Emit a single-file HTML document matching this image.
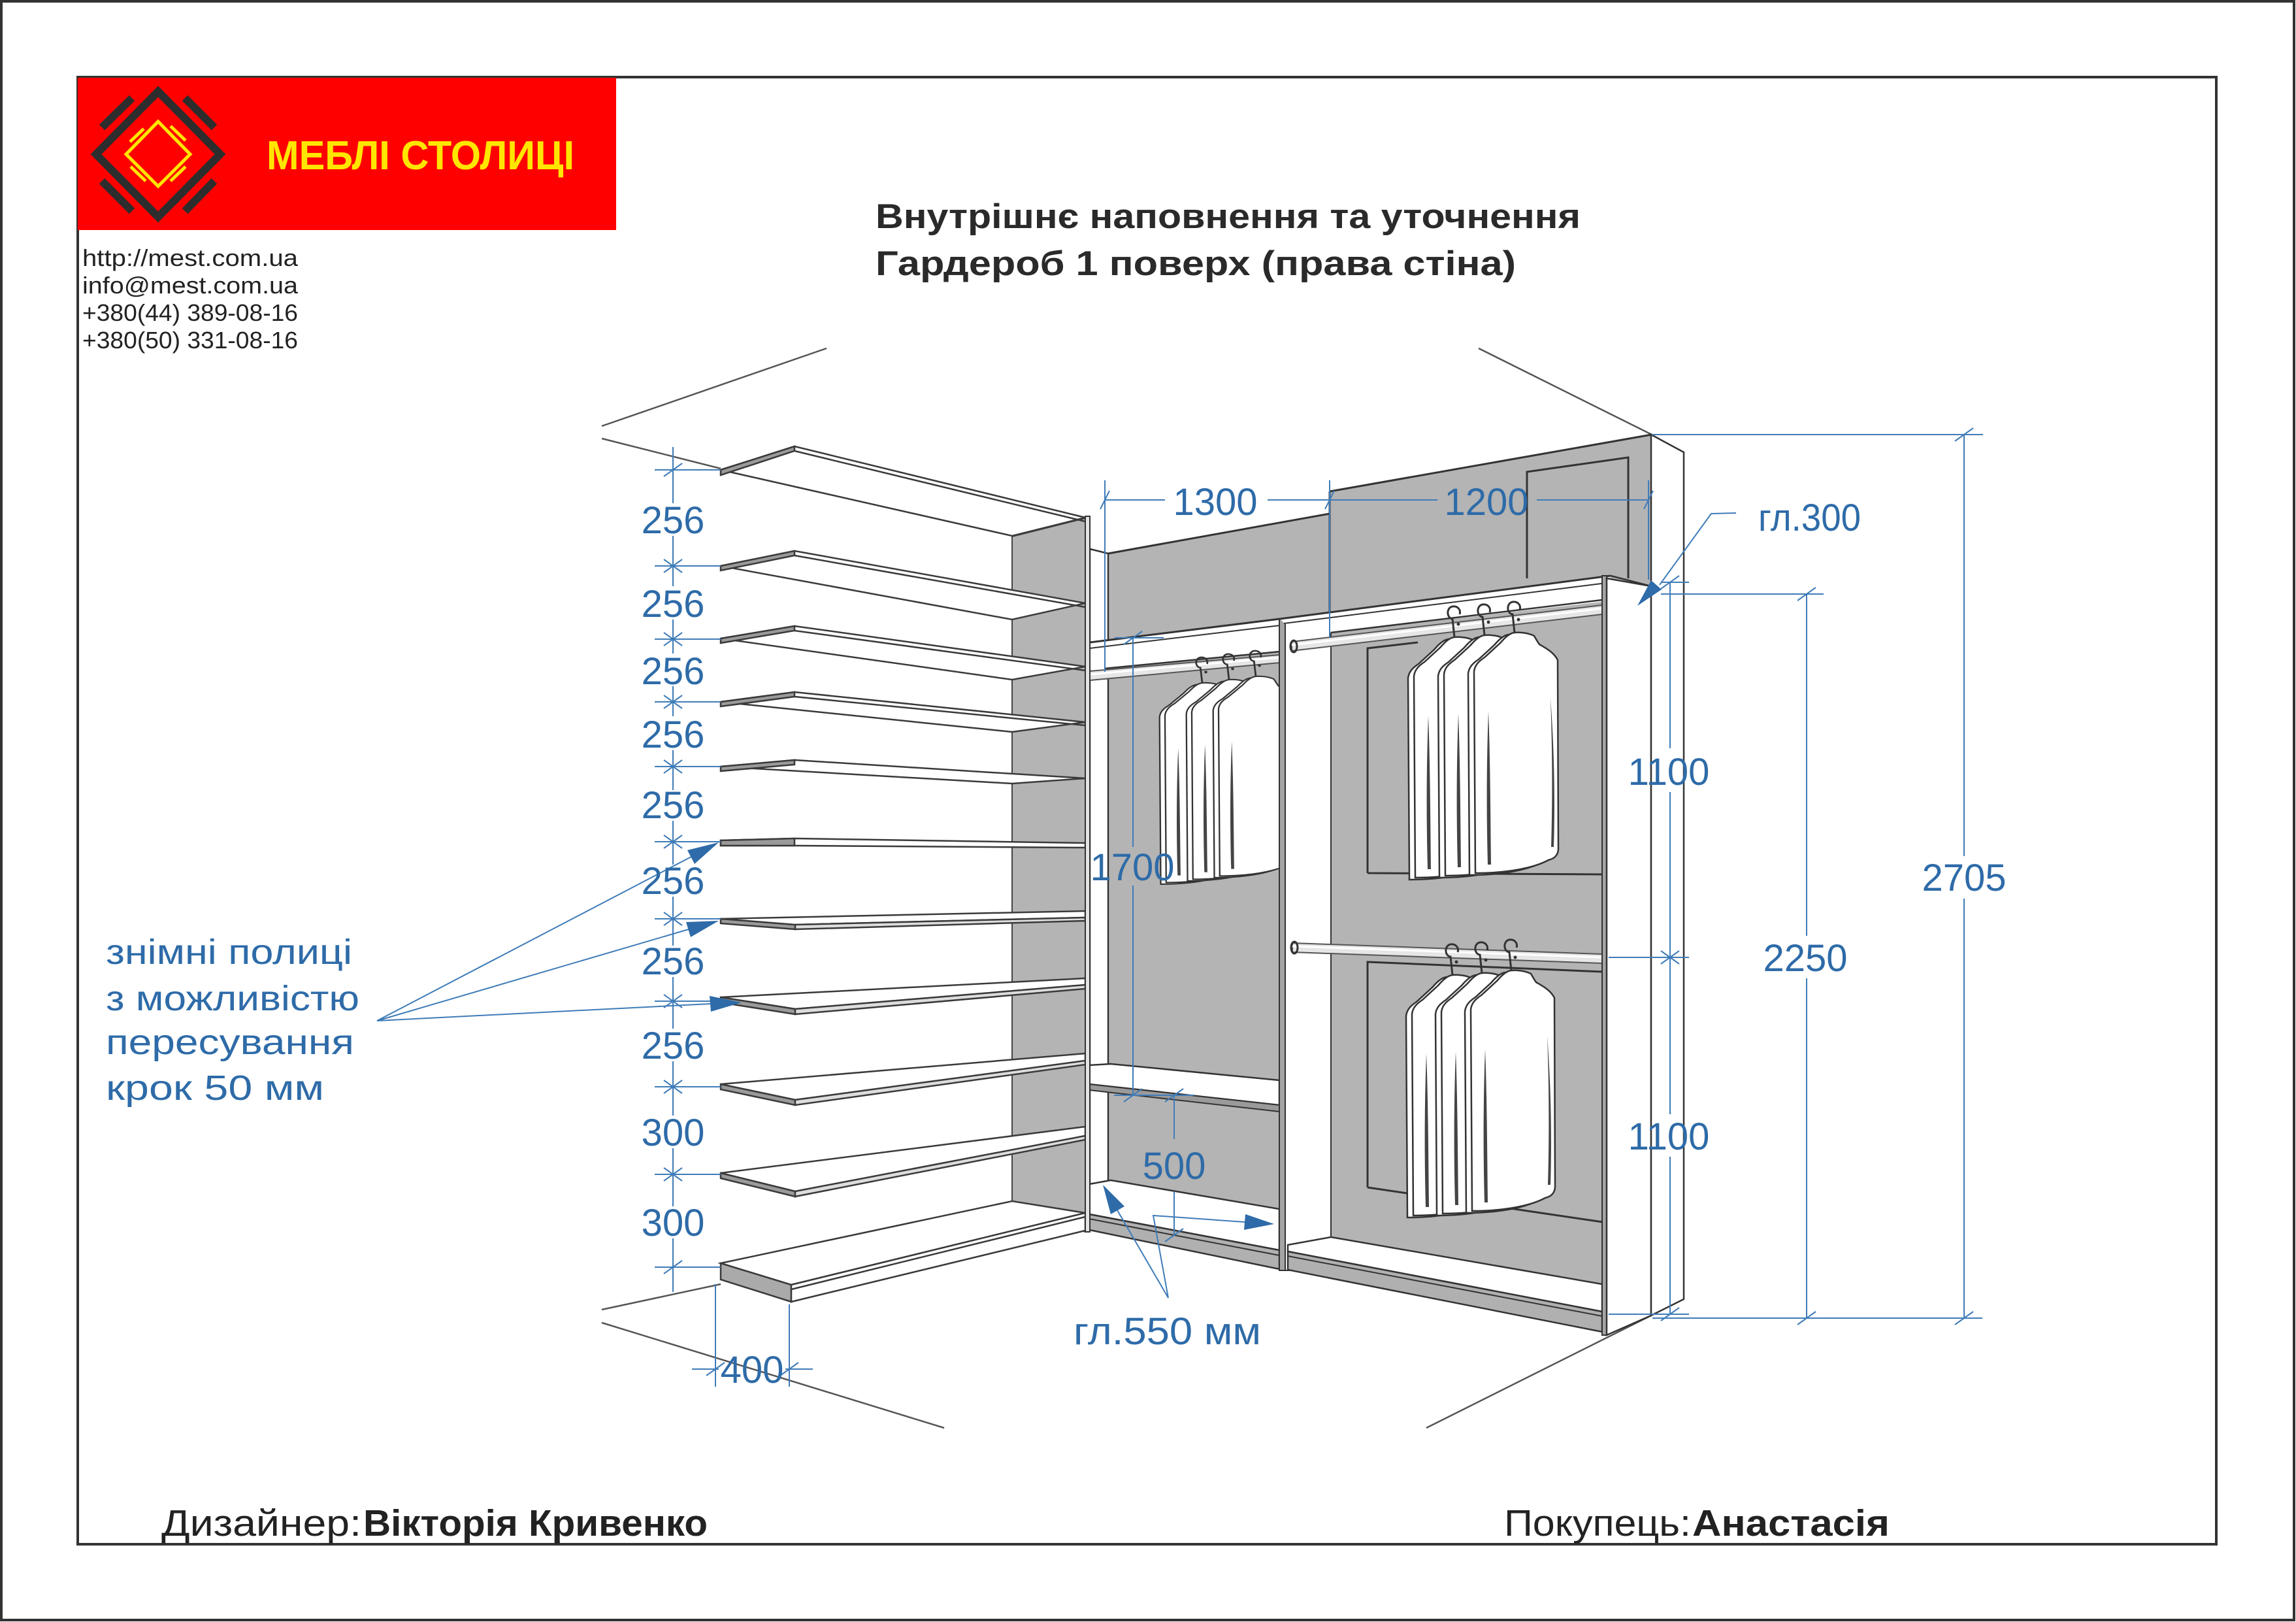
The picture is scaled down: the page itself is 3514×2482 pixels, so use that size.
<!DOCTYPE html>
<html><head><meta charset="utf-8"><style>
html,body{margin:0;padding:0;background:#fff;}
svg{display:block;}
text{font-family:"Liberation Sans","DejaVu Sans",sans-serif;}
</style></head><body>
<svg xmlns="http://www.w3.org/2000/svg" width="3514" height="2482" viewBox="0 0 3514 2482">
<defs>
 <g id="gar">
  <path d="M-9,3 C1,2 13,4 21,8 C24,13 26,17 29,21 C39,27 51,33 57,45 L58,335 C57,345 51,349 43,351 C21,363 -19,371 -69,371 L-71,63 C-70,53 -64,47 -55,41 L-31,19 C-24,11 -17,4 -9,3 Z" fill="#fff" stroke="#333" stroke-width="2.5"/>
  <path d="M0,0 C10,-1 22,1 30,5 C33,10 35,14 38,18 C48,24 60,30 66,42 L67,332 C66,342 60,346 52,348 C30,360 -10,368 -60,368 L-62,60 C-61,50 -55,44 -46,38 L-22,16 C-15,8 -8,1 0,0 Z" fill="#fff" stroke="#333" stroke-width="2.5"/>
  <path d="M55,100 C58,180 58,260 56,328 L60,328 C62,260 61,180 55,100Z" fill="#444"/>
  <path d="M-40,120 C-43,200 -43,280 -41,355 L-36,355 C-37,280 -37,200 -40,120Z" fill="#444"/>
 </g>
 <g id="hook"><path d="M0,0 L-3,-28 C-12,-29 -13,-45 -3,-47 C6,-48 10,-41 8,-35" fill="none" stroke="#333" stroke-width="3"/><circle cx="6" cy="-20" r="2.5" fill="#333"/></g>
</defs>

<rect x="0" y="0" width="3514" height="2482" fill="#fff"/>
<rect x="2" y="2" width="3509" height="2477" fill="none" stroke="#333" stroke-width="4"/>
<rect x="119" y="118" width="3273" height="2245" fill="none" stroke="#333" stroke-width="4"/>

<!-- Logo -->
<rect x="119" y="119" width="824" height="233" fill="#ff0000"/>
<polygon points="242,140 337,236 242,332 147,236" fill="none" stroke="#2d2d2d" stroke-width="12"/>
<g stroke="#2d2d2d" stroke-width="12">
 <line x1="156" y1="195" x2="202" y2="150"/>
 <line x1="283" y1="150" x2="328" y2="195"/>
 <line x1="156" y1="277" x2="202" y2="323"/>
 <line x1="283" y1="323" x2="328" y2="277"/>
</g>
<polygon points="242,186 291,236 242,285 193,236" fill="none" stroke="#ffe600" stroke-width="5"/>
<g stroke="#ffe600" stroke-width="5">
 <line x1="261" y1="193" x2="284" y2="215"/>
 <line x1="199" y1="217" x2="220" y2="197"/>
 <line x1="200" y1="255" x2="223" y2="277"/>
 <line x1="261" y1="277" x2="284" y2="255"/>
</g>
<text x="408" y="259" font-size="62" font-weight="bold" fill="#ffe600" textLength="471" lengthAdjust="spacingAndGlyphs">МЕБЛІ СТОЛИЦІ</text>

<g fill="#222" font-size="36">
 <text x="126" y="407" textLength="330" lengthAdjust="spacingAndGlyphs">http://mest.com.ua</text>
 <text x="126" y="449" textLength="330" lengthAdjust="spacingAndGlyphs">info@mest.com.ua</text>
 <text x="126" y="491" textLength="330" lengthAdjust="spacingAndGlyphs">+380(44)  389-08-16</text>
 <text x="126" y="533" textLength="330" lengthAdjust="spacingAndGlyphs">+380(50)  331-08-16</text>
</g>

<!-- Title -->
<g fill="#2a2a2a" font-size="53" font-weight="bold">
 <text x="1340" y="349" textLength="1079" lengthAdjust="spacingAndGlyphs">Внутрішнє наповнення та уточнення</text>
 <text x="1340" y="421" textLength="980" lengthAdjust="spacingAndGlyphs">Гардероб 1 поверх (права стіна)</text>
</g>

<!-- Room lines -->
<g stroke="#555" stroke-width="2.5" fill="none">
 <path d="M921,652 L1265,533 M921,671 L1103,717 M2263,533 L2528,665 M921,2004 L1103,1965 M921,2024 L1445,2185 M2183,2185 L2527,2013"/>
</g>

<!-- Back gray of middle/right units -->
<polygon points="1696,847 2035,786 2035,752 2528,665 2528,2000 1696,1820" fill="#b4b4b4"/>
<g stroke="#333" stroke-width="3" fill="none">
 <path d="M1696,847 L2035,786 M2035,752 L2528,665 M2035,752 L2035,967"/>
 <path d="M2337,885 L2337,722 L2492,700 L2492,885"/>
 <!-- right bay rects -->
 <path d="M2093,1336 L2093,992 L2170,983 M2093,1336 L2456,1338"/>
 <path d="M2093,1817 L2093,1472 L2453,1487 M2093,1817 L2453,1870"/>
</g>

<!-- Middle unit left white strip -->
<polygon points="1668,840 1696,847 1696,1860 1668,1860" fill="#fff" stroke="#333" stroke-width="2.5"/>

<!-- Middle hat shelf -->
<polygon points="1668,983 1959,947 1959,997 1690,1023 1668,1025" fill="#fff"/>
<g stroke="#333" fill="none">
 <path d="M1668,983 L1959,947" stroke-width="3"/>
 <path d="M1668,992 L1959,957" stroke-width="2"/>
 <path d="M1690,1023 L1959,997" stroke-width="2.5"/>
</g>
<!-- Middle rod -->
<polygon points="1668,1027 1959,1002 1959,1014 1668,1041" fill="#e6e6e6" stroke="#555" stroke-width="2"/>
<line x1="1668" y1="1032" x2="1959" y2="1006" stroke="#fff" stroke-width="3"/>

<!-- Middle garments -->
<g transform="translate(1840,1045) scale(0.92,0.83)"><use href="#gar"/><use href="#hook"/></g>
<g transform="translate(1881,1040) scale(0.92,0.83)"><use href="#gar"/><use href="#hook"/></g>
<g transform="translate(1922,1035) scale(0.92,0.83)"><use href="#gar"/><use href="#hook"/></g>

<!-- Middle 500 shelf -->
<polygon points="1667,1630 1700,1628 1958,1653 1958,1691 1667,1659" fill="#fff" stroke="#333" stroke-width="2.5"/>
<polygon points="1667,1659 1958,1691 1958,1701 1667,1668" fill="#9a9a9a" stroke="#333" stroke-width="2"/>
<!-- Middle bottom -->
<polygon points="1667,1812 1700,1806 1958,1850 1958,1913 1667,1858" fill="#fff" stroke="#333" stroke-width="2.5"/>
<polygon points="1667,1858 1958,1913 1958,1942 1667,1882" fill="#b0b0b0" stroke="#333" stroke-width="2.5"/>
<line x1="1667" y1="1865" x2="1958" y2="1921" stroke="#333" stroke-width="2"/>

<!-- Partition -->
<rect x="1958" y="947" width="9" height="997" fill="#a5a5a5" stroke="#333" stroke-width="2"/>
<rect x="1967" y="947" width="70" height="997" fill="#fff" stroke="#333" stroke-width="2"/>

<!-- Right hat shelf -->
<polygon points="1959,947 2465,881 2459,920 2037,968 1967,955" fill="#fff"/>
<g stroke="#333" fill="none">
 <path d="M1959,947 L2465,881" stroke-width="3"/>
 <path d="M1965,954 L2459,892" stroke-width="2"/>
 <path d="M2037,968 L2452,918" stroke-width="2.5"/>
</g>
<!-- Right rods -->
<polygon points="1977,982 2452,926 2452,940 1977,996" fill="#e6e6e6" stroke="#555" stroke-width="2"/>
<line x1="1977" y1="987" x2="2452" y2="931" stroke="#fff" stroke-width="3"/>
<ellipse cx="1980" cy="989" rx="5" ry="9" fill="none" stroke="#333" stroke-width="3"/>
<polygon points="1978,1443 2452,1460 2452,1474 1978,1457" fill="#e6e6e6" stroke="#555" stroke-width="2"/>
<line x1="1978" y1="1448" x2="2452" y2="1465" stroke="#fff" stroke-width="3"/>
<ellipse cx="1981" cy="1450" rx="5" ry="9" fill="none" stroke="#333" stroke-width="3"/>

<!-- Right garments upper -->
<g transform="translate(2226,975)"><use href="#gar"/><use href="#hook"/></g>
<g transform="translate(2272,972)"><use href="#gar"/><use href="#hook"/></g>
<g transform="translate(2318,968)"><use href="#gar"/><use href="#hook"/></g>
<!-- Right garments lower -->
<g transform="translate(2223,1492)"><use href="#gar"/><use href="#hook"/></g>
<g transform="translate(2268,1489)"><use href="#gar"/><use href="#hook"/></g>
<g transform="translate(2313,1485)"><use href="#gar"/><use href="#hook"/></g>

<!-- Right bottom -->
<polygon points="1971,1905 2037,1893 2452,1965 2452,2007 1971,1915" fill="#fff" stroke="#333" stroke-width="2.5"/>
<polygon points="1971,1915 2452,2007 2452,2038 1971,1943" fill="#b0b0b0" stroke="#333" stroke-width="2.5"/>
<line x1="1971" y1="1922" x2="2452" y2="2014" stroke="#333" stroke-width="2"/>

<!-- Right end panel -->
<rect x="2452" y="881" width="7" height="1162" fill="#a5a5a5" stroke="#333" stroke-width="2"/>
<polygon points="2459,885 2527,897 2527,2013 2459,2043" fill="#fff" stroke="#333" stroke-width="2.5"/>
<polygon points="2527,665 2577,692 2577,1988 2527,2013" fill="#fff" stroke="#333" stroke-width="2.5"/>
<line x1="2465" y1="881" x2="2527" y2="897" stroke="#333" stroke-width="2.5"/>

<!-- Left unit gray panel -->
<polygon points="1549,821 1661,793 1661,1885 1549,1845" fill="#b4b4b4" stroke="#444" stroke-width="2"/>

<!-- Upper shelves -->
<g stroke="#3a3a3a" stroke-width="2.5">
 <polygon points="1103,719 1216,683 1661,792 1549,820" fill="#fff"/>
 <polygon points="1103,719 1216,683 1216,690 1103,727" fill="#9a9a9a"/>
 <line x1="1216" y1="690" x2="1661" y2="798"/>
 <polygon points="1103,866 1216,843 1661,923 1549,948" fill="#fff"/>
 <polygon points="1103,866 1216,843 1216,850 1103,873" fill="#9a9a9a"/>
 <line x1="1216" y1="850" x2="1661" y2="929"/>
 <polygon points="1103,977 1216,958 1661,1020 1549,1040" fill="#fff"/>
 <polygon points="1103,977 1216,958 1216,965 1103,984" fill="#9a9a9a"/>
 <line x1="1216" y1="965" x2="1661" y2="1026"/>
 <polygon points="1103,1074 1216,1059 1661,1105 1549,1120" fill="#fff"/>
 <polygon points="1103,1074 1216,1059 1216,1066 1103,1081" fill="#9a9a9a"/>
 <line x1="1216" y1="1066" x2="1661" y2="1110"/>
 <polygon points="1103,1173 1216,1163 1661,1191 1549,1199" fill="#fff"/>
 <polygon points="1103,1173 1216,1163 1216,1170 1103,1180" fill="#9a9a9a"/>
 <polygon points="1103,1286 1216,1283 1661,1290 1661,1297 1216,1294 1103,1294" fill="#fff"/>
 <polygon points="1103,1286 1216,1283 1216,1294 1103,1294" fill="#9a9a9a"/>
</g>
<!-- Lower shelves -->
<g stroke="#3a3a3a" stroke-width="2.5">
 <polygon points="1103,1406 1661,1394 1661,1404 1217,1415" fill="#fff"/>
 <polygon points="1103,1406 1217,1415 1217,1422 1103,1413" fill="#9a9a9a"/>
 <polygon points="1217,1415 1661,1404 1661,1409 1217,1422" fill="#ddd"/>
 <polygon points="1103,1526 1661,1497 1661,1507 1217,1544" fill="#fff"/>
 <polygon points="1103,1526 1217,1544 1217,1552 1103,1534" fill="#9a9a9a"/>
 <polygon points="1217,1544 1661,1507 1661,1513 1217,1552" fill="#ddd"/>
 <polygon points="1103,1659 1661,1612 1661,1623 1217,1683" fill="#fff"/>
 <polygon points="1103,1659 1217,1683 1217,1691 1103,1667" fill="#9a9a9a"/>
 <polygon points="1217,1683 1661,1623 1661,1629 1217,1691" fill="#ddd"/>
 <polygon points="1103,1795 1661,1724 1661,1738 1217,1823" fill="#fff"/>
 <polygon points="1103,1795 1217,1823 1217,1831 1103,1803" fill="#9a9a9a"/>
 <polygon points="1217,1823 1661,1738 1661,1744 1217,1831" fill="#ddd"/>
 <!-- bottom -->
 <polygon points="1103,1933 1549,1838 1661,1856 1211,1966" fill="#fff"/>
 <polygon points="1103,1933 1211,1966 1211,1992 1103,1958" fill="#aaa"/>
 <polygon points="1211,1966 1661,1856 1661,1883 1211,1992" fill="#fff"/>
 <line x1="1211" y1="1973" x2="1661" y2="1862"/>
</g>
<!-- Left unit front edge -->
<rect x="1661" y="790" width="7" height="1095" fill="#e4e4e4" stroke="#333" stroke-width="2"/>

<!-- Dimensions -->
<g stroke="#3f7cb8" stroke-width="2" fill="none">
 <!-- left stack -->
 <path d="M1030,684 V770 M1030,820 V897 M1030,948 V1000 M1030,1050 V1096 M1030,1148 V1209 M1030,1256 V1323 M1030,1372 V1447 M1030,1495 V1574 M1030,1624 V1707 M1030,1757 V1846 M1030,1895 V1977"/>
 <path d="M1002,719 H1103 M1002,866 H1103 M1002,978 H1103 M1002,1074 H1103 M1002,1173 H1103 M1002,1288 H1103 M1002,1406 H1103 M1002,1532 H1103 M1002,1663 H1103 M1002,1797 H1103 M1002,1939 H1103"/>
 <path d="M1016,729 L1044,709 M1016,876 L1044,856 M1016,856 L1044,876 M1016,988 L1044,968 M1016,968 L1044,988 M1016,1084 L1044,1064 M1016,1064 L1044,1084 M1016,1183 L1044,1163 M1016,1163 L1044,1183 M1016,1298 L1044,1278 M1016,1278 L1044,1298 M1016,1416 L1044,1396 M1016,1396 L1044,1416 M1016,1542 L1044,1522 M1016,1522 L1044,1542 M1016,1673 L1044,1653 M1016,1653 L1044,1673 M1016,1807 L1044,1787 M1016,1787 L1044,1807 M1016,1949 L1044,1929"/>
 <!-- 400 -->
 <path d="M1095,1965 V2122 M1208,1996 V2122 M1059,2095 H1100 M1202,2095 H1244 M1081,2105 L1109,2085 M1194,2105 L1222,2085"/>
 <!-- leaders for shelves -->
 <path d="M577,1562 L1058,1311 M577,1562 L1054,1422 M577,1562 L1087,1536"/>
 <!-- 1300 / 1200 -->
 <path d="M1691,735 V1028 M2035,735 V975 M2523,735 V887 M1691,765 H1783 M1940,765 H2200 M2352,765 H2523 M1684,779 L1698,751 M2028,779 L2042,751 M2516,779 L2530,751"/>
 <!-- 1700 / 500 -->
 <path d="M1706,976 H1781 M1720,986 L1748,966 M1734,976 V1296 M1734,1355 V1676 M1705,1676 H1827 M1720,1686 L1748,1666 M1783,1686 L1811,1666 M1797,1676 V1743 M1797,1823 V1890 M1783,1900 L1811,1880"/>
 <!-- гл.550 leaders -->
 <path d="M1710,1852 L1788,1986 L1765,1860 L1905,1870"/>
 <!-- гл.300 leader -->
 <path d="M2657,785 L2619,786 L2540,895"/>
 <!-- 1100 -->
 <path d="M2556,891 V1145 M2556,1212 V1705 M2556,1770 V2011 M2542,891 H2585 M2462,1465 H2585 M2462,2011 H2585 M2542,901 L2570,881 M2542,1475 L2570,1455 M2542,1455 L2570,1475 M2542,2021 L2570,2001"/>
 <!-- 2250 -->
 <path d="M2542,909 H2791 M2765,909 V1432 M2765,1497 V2017 M2751,919 L2779,899 M2751,2027 L2779,2007"/>
 <!-- 2705 -->
 <path d="M2528,665 H3035 M3006,665 V1310 M3006,1375 V2017 M2529,2017 H3034 M2992,675 L3020,655 M2992,2027 L3020,2007"/>
</g>
<g fill="#2e6ba8">
 <polygon points="1100,1289 1063,1322 1052,1301"/>
 <polygon points="1100,1409 1057,1434 1050,1411"/>
 <polygon points="1135,1534 1088,1548 1086,1524"/>
 <polygon points="1688,1813 1721,1846 1700,1858"/>
 <polygon points="1950,1873 1904,1882 1906,1858"/>
 <polygon points="2506,927 2527,888 2543,902"/>
</g>

<g fill="#2e6ba8" font-size="58" text-anchor="middle">
 <text x="1030" y="816">256</text>
 <text x="1030" y="944">256</text>
 <text x="1030" y="1047">256</text>
 <text x="1030" y="1144">256</text>
 <text x="1030" y="1252">256</text>
 <text x="1030" y="1368">256</text>
 <text x="1030" y="1491">256</text>
 <text x="1030" y="1620">256</text>
 <text x="1030" y="1753">300</text>
 <text x="1030" y="1891">300</text>
 <text x="1151" y="2116">400</text>
 <text x="1860" y="788">1300</text>
 <text x="2275" y="788">1200</text>
 <text x="1733" y="1347">1700</text>
 <text x="1797" y="1804">500</text>
 <text x="2554" y="1201">1100</text>
 <text x="2554" y="1759">1100</text>
 <text x="2763" y="1486">2250</text>
 <text x="3006" y="1363">2705</text>
</g>
<g fill="#2e6ba8" font-size="58">
 <text x="2691" y="812" textLength="157" lengthAdjust="spacingAndGlyphs">гл.300</text>
 <text x="1643" y="2057" textLength="287" lengthAdjust="spacingAndGlyphs">гл.550 мм</text>
</g>
<g fill="#2e6ba8" font-size="54">
 <text x="162" y="1475" textLength="377" lengthAdjust="spacingAndGlyphs">знімні полиці</text>
 <text x="162" y="1546" textLength="388" lengthAdjust="spacingAndGlyphs">з можливістю</text>
 <text x="162" y="1613" textLength="380" lengthAdjust="spacingAndGlyphs">пересування</text>
 <text x="162" y="1683" textLength="334" lengthAdjust="spacingAndGlyphs">крок 50 мм</text>
</g>

<!-- Footer -->
<g fill="#222" font-size="57">
 <text x="247" y="2350" textLength="306" lengthAdjust="spacingAndGlyphs">Дизайнер:</text>
 <text x="556" y="2350" font-weight="bold" textLength="527" lengthAdjust="spacingAndGlyphs">Вікторія Кривенко</text>
 <text x="2302" y="2350" textLength="286" lengthAdjust="spacingAndGlyphs">Покупець:</text>
 <text x="2590" y="2350" font-weight="bold" textLength="302" lengthAdjust="spacingAndGlyphs">Анастасія</text>
</g>
</svg>
</body></html>
